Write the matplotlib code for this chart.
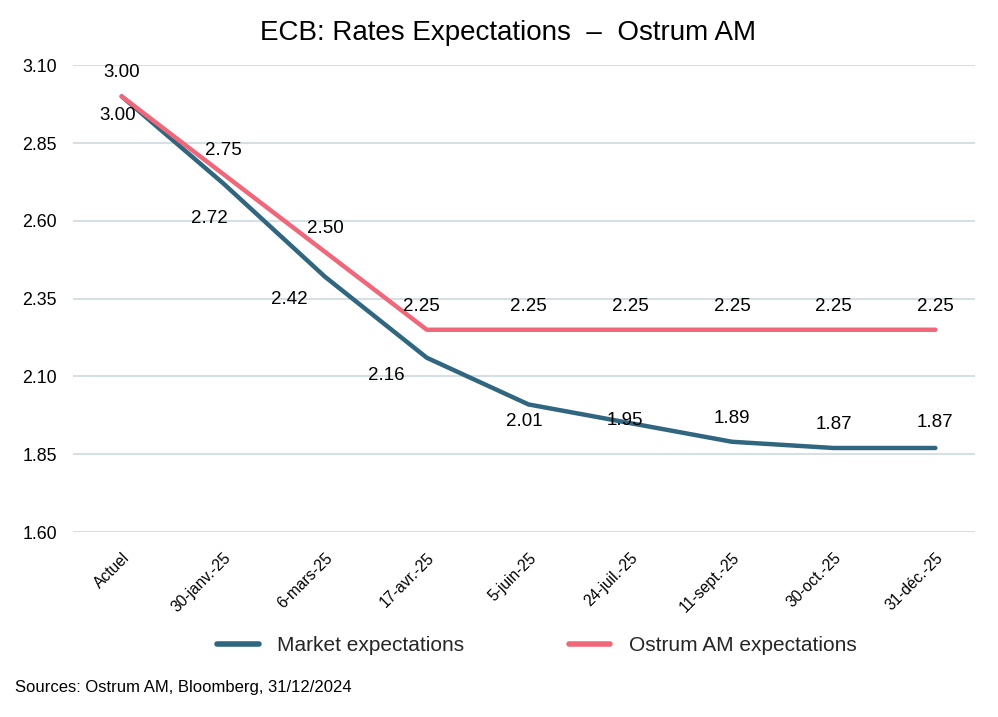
import matplotlib.pyplot as plt

# ================= DATOS =================
fechas = ["Actuel", "30-janv.-25", "6-mars-25", "17-avr.-25", "5-juin-25",
          "24-juil.-25", "11-sept.-25", "30-oct.-25", "31-déc.-25"]
marche = [3.00, 2.72, 2.42, 2.16, 2.01, 1.95, 1.89, 1.87, 1.87]
ostrum = [3.00, 2.75, 2.50, 2.25, 2.25, 2.25, 2.25, 2.25, 2.25]

# decalages des etiquettes (points) comme dans l'original Excel
decal_marche = [(-3, -14), (-10, -25), (-26, -16), (-29, -13), (-3, -12),
                (-4, 2), (0, 17), (0, 17), (0, 18)]
decal_ostrum = [(0, 17), (0, 17), (0, 17), (-4, 17), (0, 17),
                (0, 17), (0, 17), (0, 17), (0, 17)]

COULEUR_MARCHE = "#30667F"
COULEUR_OSTRUM = "#F0677A"

plt.rcParams['font.family'] = ['Liberation Sans', 'DejaVu Sans']

fig = plt.figure(figsize=(9.98, 7.17), dpi=100)
ax = fig.add_axes([0.073, 0.258, 0.904, 0.651])

x = list(range(len(fechas)))
ax.plot(x, marche, color=COULEUR_MARCHE, lw=3.2, solid_capstyle='round',
        label="Market expectations", zorder=3)
ax.plot(x, ostrum, color=COULEUR_OSTRUM, lw=3.2, solid_capstyle='round',
        label="Ostrum AM expectations", zorder=3)

for i in x:
    ax.annotate(f"{marche[i]:.2f}", (i, marche[i]), xytext=decal_marche[i],
                textcoords='offset points', ha='center', va='center', fontsize=13.5)
    ax.annotate(f"{ostrum[i]:.2f}", (i, ostrum[i]), xytext=decal_ostrum[i],
                textcoords='offset points', ha='center', va='center', fontsize=13.5)

yticks = [1.60, 1.85, 2.10, 2.35, 2.60, 2.85, 3.10]
ax.set_ylim(1.60, 3.10)
ax.set_yticks(yticks)
ax.set_yticklabels([f"{v:.2f}" for v in yticks], fontsize=12.8)
ax.set_xlim(-0.48, 8.39)
ax.set_xticks(x)
ax.set_xticklabels(fechas, rotation=45, ha='right', rotation_mode='anchor', fontsize=11.2)
ax.tick_params(length=0)
ax.tick_params(axis='y', pad=11.5)
ax.tick_params(axis='x', pad=13)
ax.grid(axis='y', color="#D5DFE4", lw=1.5)
ax.set_axisbelow(True)
for s in ax.spines.values():
    s.set_visible(False)

fig.suptitle("ECB: Rates Expectations  –  Ostrum AM", x=0.509, y=0.972, fontsize=20)

leg = fig.legend(loc='center', bbox_to_anchor=(0.538, 0.100), ncol=2, frameon=False,
                 fontsize=15, handlelength=2.0, columnspacing=5.0, handletextpad=0.9)
for h in leg.get_lines():
    h.set_linewidth(4)
for t in leg.get_texts():
    t.set_color("#262626")

fig.text(0.015, 0.035, "Sources: Ostrum AM, Bloomberg, 31/12/2024", fontsize=12)

fig.savefig("out.png", dpi=100)
